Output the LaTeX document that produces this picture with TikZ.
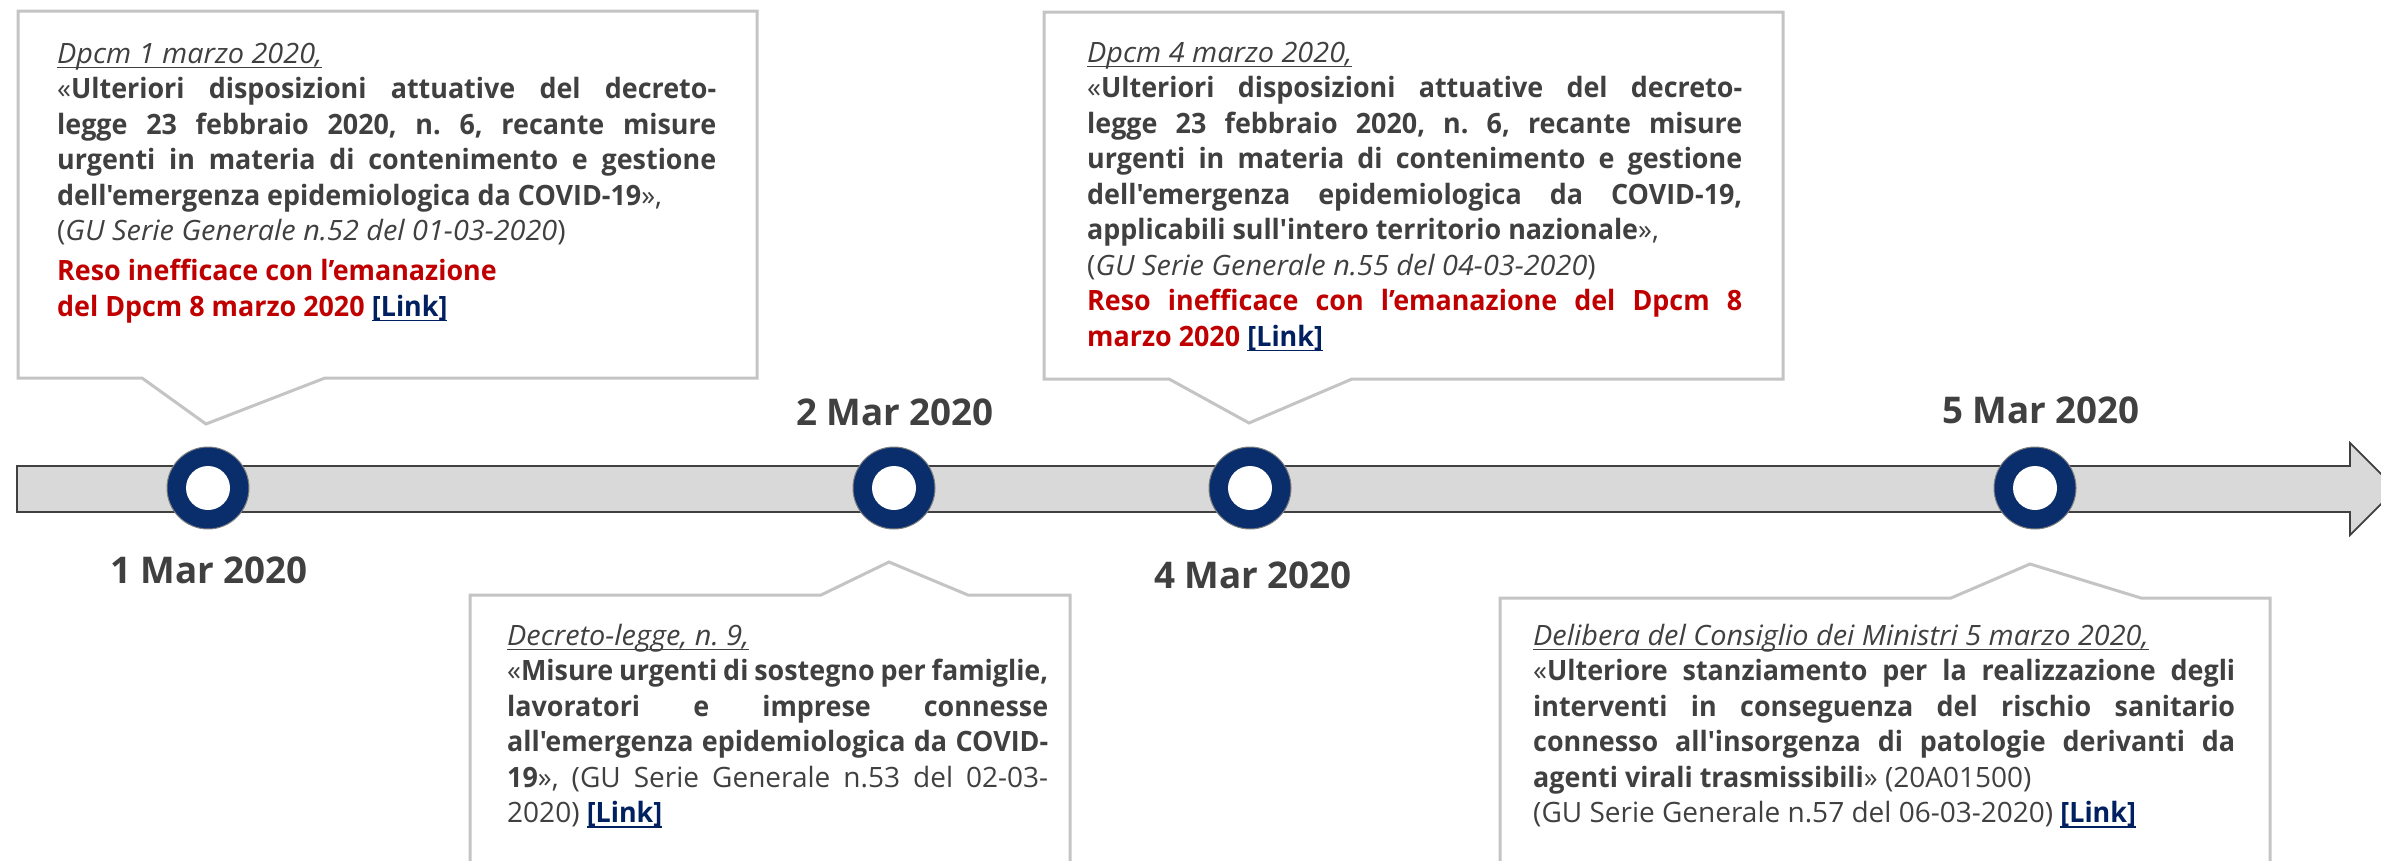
\documentclass[tikz,border=0pt]{standalone}
\usepackage{fontspec}
\setmainfont{Open Sans}[Ligatures=TeXOff, BoldFeatures={FakeStretch=0.96}, ItalicFeatures={FakeStretch=1.03}]
\newfontfamily\labelfont{Open Sans}[Ligatures=TeXOff]
\usepackage{xcolor}
\definecolor{txt}{HTML}{404040}
\definecolor{rd}{HTML}{C00000}
\definecolor{lnkc}{HTML}{002060}
\definecolor{navy}{HTML}{0A2D6B}
\definecolor{barfill}{HTML}{D9D9D9}
\definecolor{barline}{HTML}{404040}
\definecolor{boxline}{HTML}{C4C4C4}
\newcommand{\myul}[1]{\leavevmode\setbox0\hbox{#1}\rlap{\rule[-5pt]{\wd0}{1.2pt}}\box0}
\newcommand{\linkref}[1]{{\bfseries\color{lnkc}\myul{#1}}}
\tikzset{
  callout/.style={draw=boxline, line width=3pt, fill=white, line join=miter},
  body/.style={anchor=base west, inner sep=0pt, text=txt, font=\fontsize{28}{35.5}\selectfont\frenchspacing},
  datelbl/.style={anchor=base, inner sep=0pt, text=txt, font=\labelfont\fontsize{36.8}{40}\selectfont\bfseries},
  ring/.style={circle, fill=navy, draw=gray, line width=1pt, minimum size=82pt, inner sep=0pt},
  hole/.style={circle, fill=white, minimum size=44pt, inner sep=0pt},
  timebar/.style={fill=barfill, draw=barline, line width=1.8pt, line join=miter}
}
\begin{document}
\begin{tikzpicture}[x=1pt, y=-1pt]
\useasboundingbox (0,0) rectangle (2381,860);
\clip (0,0) rectangle (2381,860);
% timeline arrow
\draw[timebar] (17,466) -- (2350,466) -- (2350,443) -- (2396,489) -- (2350,535) -- (2350,512) -- (17,512) -- cycle;
% rings
\node[ring] (c1) at (208,488) {};
\node[hole] (h1) at (c1) {};
\node[ring] (c2) at (894,488) {};
\node[hole] (h2) at (c2) {};
\node[ring] (c3) at (1250,488) {};
\node[hole] (h3) at (c3) {};
\node[ring] (c4) at (2035,488) {};
\node[hole] (h4) at (c4) {};
% date labels
\node[datelbl] (d1) at (209,583) {1 Mar 2020};
\node[datelbl] (d2) at (895,425) {2 Mar 2020};
\node[datelbl] (d3) at (1253,588) {4 Mar 2020};
\node[datelbl] (d4) at (2041,423) {5 Mar 2020};
% callout boxes
\draw[callout] (18,11) -- (757,11) -- (757,378) -- (325,378) -- (206,424) -- (142,378) -- (18,378) -- cycle;
\draw[callout] (1044,12) -- (1783,12) -- (1783,379) -- (1352,379) -- (1249,423) -- (1169,379) -- (1044,379) -- cycle;
\draw[callout] (470,880) -- (470,595) -- (821,595) -- (889,562) -- (968,595) -- (1070,595) -- (1070,880);
\draw[callout] (1500,880) -- (1500,598) -- (1951,598) -- (2030,564) -- (2141,598) -- (2270,598) -- (2270,880);
% texts
\node[body] (t1) at (57,63) {\parbox[t]{659pt}{\tolerance=10000\hbadness=10000\hyphenpenalty=10000
\myul{\itshape Dpcm 1 marzo 2020,}\par
«\textbf{Ulteriori disposizioni attuative del decreto-\linebreak legge 23 febbraio 2020, n. 6, recante misure\linebreak urgenti in materia di contenimento e gestione\linebreak dell'emergenza epidemiologica da COVID-19}»,\par
(\textit{GU Serie Generale n.52 del 01-03-2020})\par
\vspace{4.5pt}
{\color{rd}\bfseries Reso inefficace con l’emanazione\\ del Dpcm 8 marzo 2020} \linkref{[Link]}}};
\node[body] (t2) at (1087,62) {\parbox[t]{655pt}{\tolerance=10000\hbadness=10000\hyphenpenalty=10000
\myul{\itshape Dpcm 4 marzo 2020,}\par
«\textbf{Ulteriori disposizioni attuative del decreto-\linebreak legge 23 febbraio 2020, n. 6, recante misure\linebreak urgenti in materia di contenimento e gestione\linebreak dell'emergenza epidemiologica da COVID-19,\linebreak applicabili sull'intero territorio nazionale}»,\par
(\textit{GU Serie Generale n.55 del 04-03-2020})\par
{\color{rd}\bfseries Reso inefficace con l’emanazione del Dpcm 8\linebreak marzo 2020} \linkref{[Link]}}};
\node[body] (t3) at (507,645) {\parbox[t]{541pt}{\tolerance=10000\hbadness=10000\hyphenpenalty=10000
\myul{\itshape Decreto-legge, n. 9,}\par
«\textbf{Misure urgenti di sostegno per famiglie,\linebreak lavoratori e imprese connesse\linebreak all'emergenza epidemiologica da COVID-\linebreak 19}», (GU Serie Generale n.53 del 02-03-\linebreak 2020) \linkref{[Link]}}};
\node[body] (t4) at (1533,645) {\parbox[t]{702pt}{\tolerance=10000\hbadness=10000\hyphenpenalty=10000
\myul{\itshape Delibera del Consiglio dei Ministri 5 marzo 2020,}\par
«\textbf{Ulteriore stanziamento per la realizzazione degli\linebreak interventi in conseguenza del rischio sanitario\linebreak connesso all'insorgenza di patologie derivanti da\linebreak agenti virali trasmissibili}» (20A01500)\par
(GU Serie Generale n.57 del 06-03-2020) \linkref{[Link]}}};
\end{tikzpicture}
\end{document}
